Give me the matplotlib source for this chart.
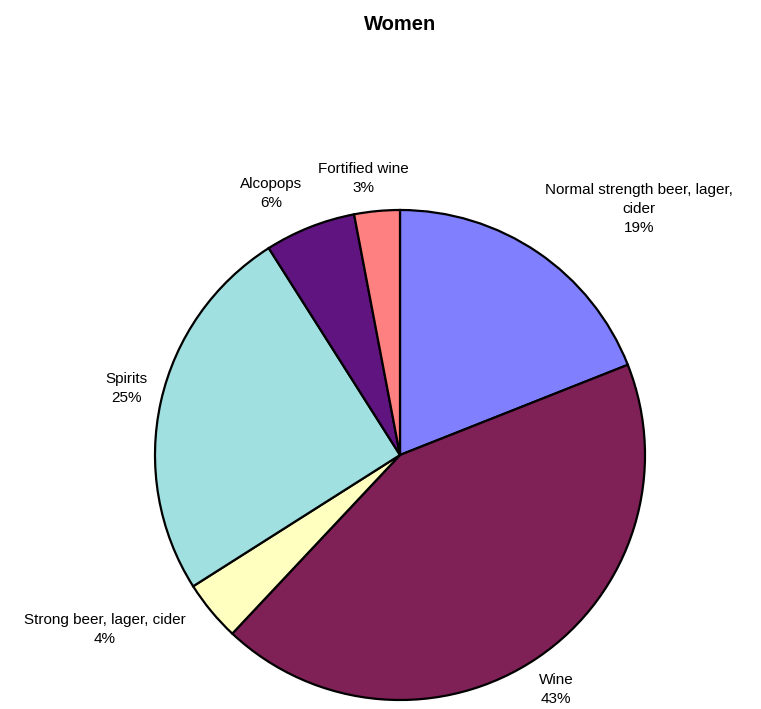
import matplotlib.pyplot as plt
import numpy as np

plt.rcParams['font.family'] = ['Liberation Sans', 'DejaVu Sans']

categories = ["Normal strength beer, lager,\ncider", "Wine", "Strong beer, lager, cider",
              "Spirits", "Alcopops", "Fortified wine"]
shares = [19, 43, 4, 25, 6, 3]
colors = ["#8080FF", "#7F2157", "#FFFFC0", "#A0E0E0", "#5F1480", "#FF8080"]

# label placement: distance from centre (in radii) and angle nudge (degrees)
label_dist = [1.40, 1.15, 1.40, 1.15, 1.19, 1.14]
label_nudge = [-10, -0.5, -9, -1, 4.7, 2.2]

W, H = 761, 709
fig = plt.figure(figsize=(W / 100, H / 100), dpi=100)
ax = fig.add_axes([0, 0, 1, 1])

cx, cy, r = 400, H - 455, 245
wedges, _ = ax.pie(shares, colors=colors, startangle=90, counterclock=False,
                   center=(cx, cy), radius=r, frame=True,
                   wedgeprops=dict(edgecolor="black", linewidth=1.6))
ax.set_xlim(0, W)
ax.set_ylim(0, H)
ax.axis("off")

for w, name, val, d, nudge in zip(wedges, categories, shares, label_dist, label_nudge):
    mid = np.deg2rad((w.theta1 + w.theta2) / 2 + nudge)
    x = cx + d * r * np.cos(mid)
    y = cy + d * r * np.sin(mid)
    ax.text(x, y, f"{name}\n{val}%", ha="center", va="center",
            fontsize=11, linespacing=1.45)

fig.text(400 / W, 1 - 25 / H, "Women", ha="center", va="center",
         fontsize=14.5, fontweight="bold")

fig.savefig("out.png", dpi=100)
